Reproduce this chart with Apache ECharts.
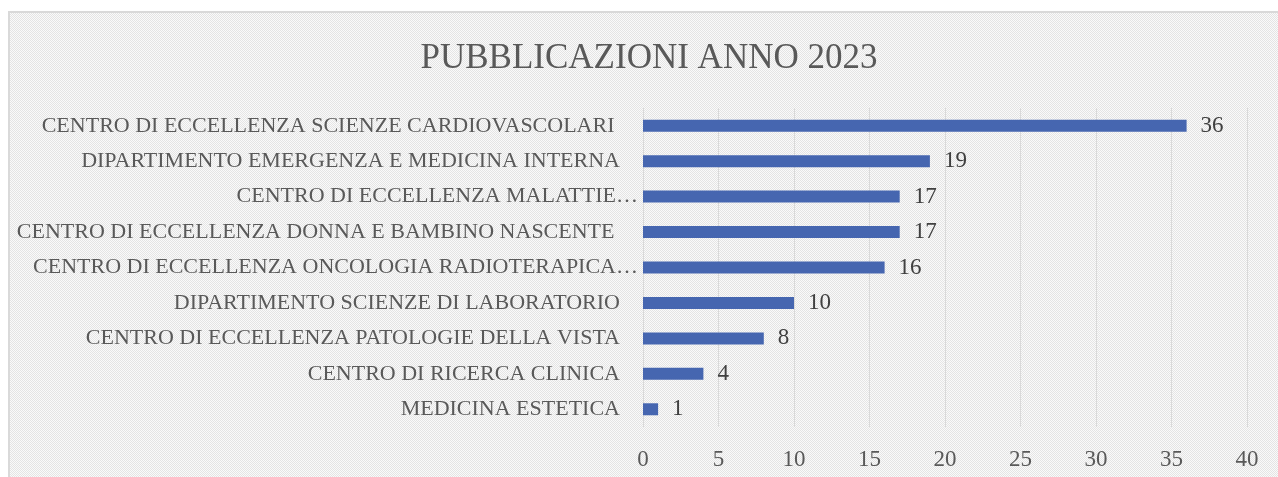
<!DOCTYPE html>
<html>
<head>
<meta charset="utf-8">
<script src="https://cdn.jsdelivr.net/npm/echarts@6/dist/echarts.min.js"></script>
<style>
  html, body { margin: 0; padding: 0; background: #fff; }
  #chart { width: 1278px; height: 477px; }
</style>
</head>
<body>
<div id="chart"></div>
<script>
// data, bottom to top as echarts draws a category y axis
var categories = [
  "MEDICINA ESTETICA",
  "CENTRO DI RICERCA CLINICA",
  "CENTRO DI ECCELLENZA PATOLOGIE DELLA VISTA",
  "DIPARTIMENTO SCIENZE DI LABORATORIO",
  "CENTRO DI ECCELLENZA ONCOLOGIA RADIOTERAPICA…",
  "CENTRO DI ECCELLENZA DONNA E BAMBINO NASCENTE ",
  "CENTRO DI ECCELLENZA MALATTIE…",
  "DIPARTIMENTO EMERGENZA E MEDICINA INTERNA",
  "CENTRO DI ECCELLENZA SCIENZE CARDIOVASCOLARI "
];
var values = [1, 4, 8, 10, 16, 17, 17, 19, 36];
var title = "PUBBLICAZIONI ANNO 2023";

var FONT = "'Liberation Serif', 'Times New Roman', serif";

// fine checker background like the office chart fill
function makePattern() {
  var c = document.createElement("canvas");
  c.width = 2;
  c.height = 2;
  var ctx = c.getContext("2d");
  ctx.fillStyle = "#fafafa";
  ctx.fillRect(0, 0, 2, 2);
  ctx.fillStyle = "#e4e4e4";
  ctx.fillRect(0, 0, 1, 1);
  ctx.fillRect(1, 1, 1, 1);
  return c;
}

// truncated labels run up to the axis, the others stop a bit before it
function catLabel(val) {
  if (val.slice(-1) === "…") {
    return val;
  }
  return val + "{s| }";
}

var chart = echarts.init(document.getElementById("chart"));
chart.setOption({
  backgroundColor: "#ffffff",
  animation: false,
  graphic: [
    {
      type: "rect",
      z: -10,
      silent: true,
      shape: { x: 9, y: 12, width: 1300, height: 500 },
      style: {
        fill: { image: makePattern(), repeat: "repeat" },
        stroke: "#d9d9d9",
        lineWidth: 2
      }
    }
  ],
  title: {
    text: title,
    left: 644,
    top: 36,
    textAlign: "center",
    textStyle: {
      fontFamily: FONT,
      fontSize: 35,
      fontWeight: "normal",
      color: "#595959"
    }
  },
  grid: {
    left: 643,
    right: 31,
    top: 108,
    bottom: 50,
    containLabel: false
  },
  xAxis: {
    type: "value",
    min: 0,
    max: 40,
    interval: 5,
    axisLine: { show: false },
    axisTick: { show: false },
    axisLabel: {
      margin: 21,
      fontFamily: FONT,
      fontSize: 23,
      color: "#595959"
    },
    splitLine: {
      lineStyle: { color: "#d9d9d9", width: 1 }
    }
  },
  yAxis: {
    type: "category",
    data: categories,
    axisLine: { show: false },
    axisTick: { show: false },
    axisLabel: {
      margin: 5,
      fontFamily: FONT,
      fontSize: 22,
      color: "#595959",
      formatter: catLabel,
      rich: {
        s: {
          width: 18,
          fontFamily: FONT,
          fontSize: 22
        }
      }
    }
  },
  series: [
    {
      type: "bar",
      data: values,
      barWidth: 12,
      itemStyle: { color: "#4666b0" },
      label: {
        show: true,
        position: "right",
        distance: 14,
        fontFamily: FONT,
        fontSize: 23,
        color: "#404040"
      }
    }
  ]
});
</script>
</body>
</html>
